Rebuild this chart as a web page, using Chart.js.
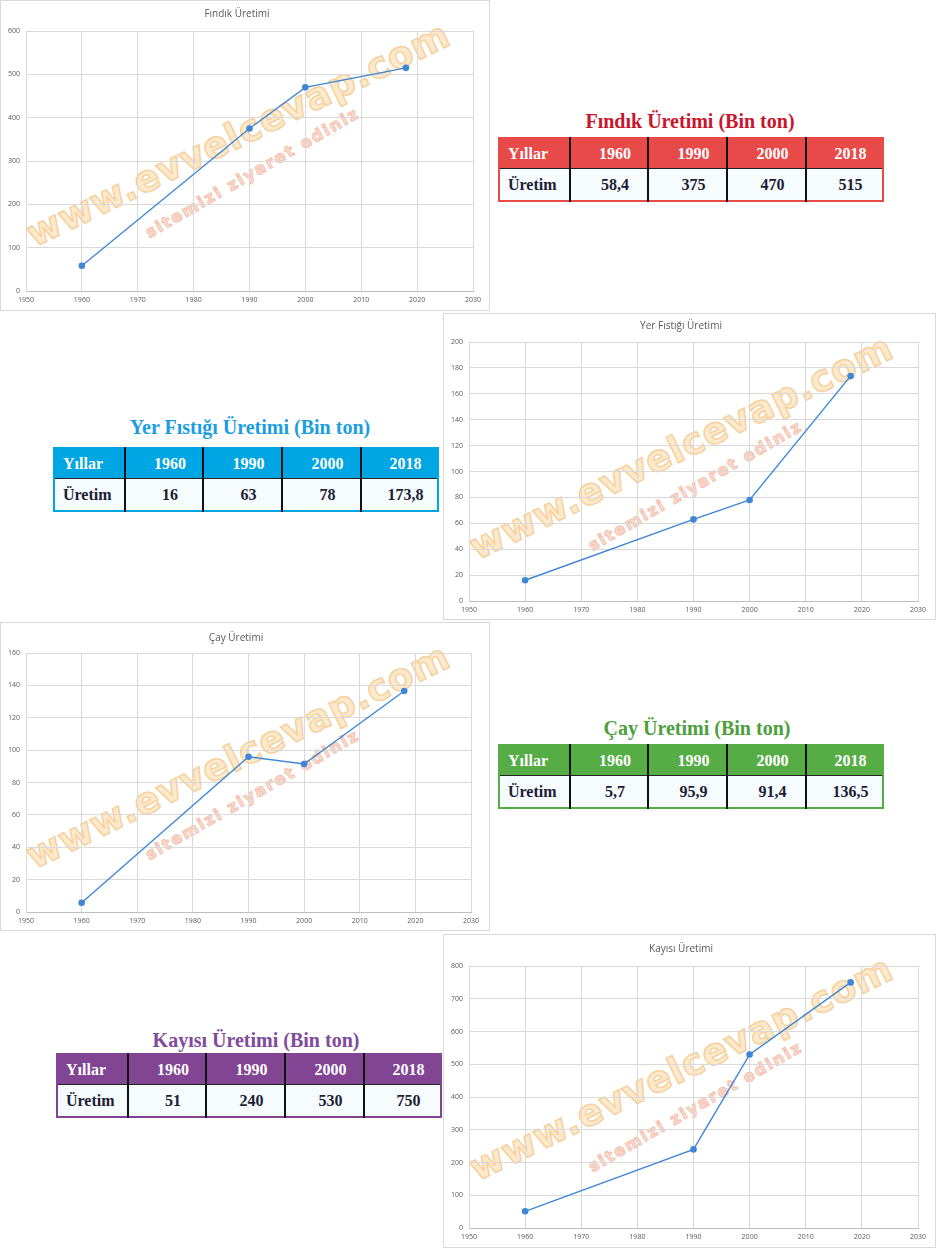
<!DOCTYPE html>
<html>
<head>
<meta charset="utf-8">
<script src="https://cdn.jsdelivr.net/npm/chart.js@4.4.1/dist/chart.umd.min.js"></script>
<style>
  body { margin: 0; background: #fff; width: 937px; height: 1248px; position: relative; overflow: hidden; }
  .box { position: absolute; border: 1px solid #d9d9d9; box-sizing: border-box; background: #fff; overflow: hidden; }
  .box canvas { position: absolute; left: 0; top: 0; z-index: 2; }
  .wm { position: absolute; white-space: nowrap; transform-origin: 0 100%; font-family: "DejaVu Sans", sans-serif; font-weight: bold; z-index: 1; line-height: 1; }
  .wm1 { font-size: 37px; color: #fde3bb; -webkit-text-stroke: 1.5px #f4c27e; letter-spacing: 1px; opacity: 0.75; }
  .wm2 { font-size: 16px; color: #f9cfc0; -webkit-text-stroke: 1px #f0a88e; letter-spacing: 2px; opacity: 0.7; }
  .ttl { position: absolute; white-space: nowrap; transform: translate(-50%, -50%); font-family: "Liberation Serif", serif; font-size: 20px; font-weight: bold; }
  table { position: absolute; border-collapse: collapse; table-layout: fixed; font-family: "Liberation Serif", serif; font-weight: bold; font-size: 16px; }
  td { padding: 0 0 0 12px; text-align: center; border-left: 2px solid #111; white-space: nowrap; }
  td:first-child { text-align: left; padding-left: 8px; border-left: none; }
  tr.h td { color: #fff; height: 29px; border-bottom: 1.5px solid #222; }
  tr.b td { background: #f6fbfd; color: #1d1d35; height: 31px; }
</style>
</head>
<body>
<script>
// values
const years = [1960, 1990, 2000, 2018];
const findik = [58.4, 375, 470, 515];
const yerFistigi = [16, 63, 78, 173.8];
const cay = [5.7, 95.9, 91.4, 136.5];
const kayisi = [51, 240, 530, 750];

const chartTitles = ['Fındık Üretimi', 'Yer Fıstığı Üretimi', 'Çay Üretimi', 'Kayısı Üretimi'];
const tableTitles = ['Fındık Üretimi (Bin ton)', 'Yer Fıstığı Üretimi (Bin ton)', 'Çay Üretimi (Bin ton)', 'Kayısı Üretimi (Bin ton)'];
const rowLabels = ['Yıllar', 'Üretim'];
const yMax = [600, 200, 160, 800];
const yStep = [100, 20, 20, 100];
const xMin = 1950, xMax = 2030, xStep = 10;

// layout
const boxes = [
  { left: 0,   top: 0,   w: 490, h: 311, plotLeft: 25, padRight: 16, titleY: 13, plotTop: 30, axisH: 19 },
  { left: 443, top: 313, w: 493, h: 307, plotLeft: 25, padRight: 17, titleY: 12, plotTop: 28, axisH: 18 },
  { left: 0,   top: 622, w: 490, h: 309, plotLeft: 25, padRight: 18, titleY: 15, plotTop: 30, axisH: 18 },
  { left: 443, top: 934, w: 493, h: 314, plotLeft: 25, padRight: 17, titleY: 14, plotTop: 31, axisH: 19 }
];
const tables = [
  { left: 498, top: 137, w: 384, titleX: 690, titleY: 121, head: '#e84a4a', titleColor: '#c8162c' },
  { left: 53,  top: 447, w: 385, titleX: 250, titleY: 427, head: '#00a5e3', titleColor: '#1b9ee0' },
  { left: 498, top: 744, w: 384, titleX: 697, titleY: 728, head: '#56ad46', titleColor: '#4c9f3c' },
  { left: 56,  top: 1053, w: 384, titleX: 256, titleY: 1040, head: '#824593', titleColor: '#7f4b9b' }
];
const colW = [71, 78, 79, 79, 77];

const lineColor = '#3f87d6';
const textColor = '#595959';
const gridColor = '#d9d9d9';

function renderChart(i, values) {
  const b = boxes[i];
  const box = document.createElement('div');
  box.className = 'box';
  Object.assign(box.style, { left: b.left + 'px', top: b.top + 'px', width: b.w + 'px', height: b.h + 'px' });
  document.body.appendChild(box);

  // watermark
  const w1 = document.createElement('div');
  w1.className = 'wm wm1';
  w1.textContent = 'www.evvelcevap.com';
  Object.assign(w1.style, { left: '36px', top: (252 - 37) + 'px', transform: 'rotate(-26deg)' });
  box.appendChild(w1);
  const w2 = document.createElement('div');
  w2.className = 'wm wm2';
  w2.textContent = 'sitemizi ziyaret ediniz';
  Object.assign(w2.style, { left: '150px', top: (240 - 16) + 'px', transform: 'rotate(-30deg)' });
  box.appendChild(w2);

  const iw = b.w - 2, ih = b.h - 2;
  const canvas = document.createElement('canvas');
  canvas.width = iw; canvas.height = ih;
  canvas.style.width = iw + 'px'; canvas.style.height = ih + 'px';
  box.appendChild(canvas);

  new Chart(canvas, {
    type: 'scatter',
    data: {
      datasets: [{
        data: years.map((y, k) => ({ x: y, y: values[k] })),
        showLine: true,
        borderColor: lineColor,
        backgroundColor: lineColor,
        borderWidth: 1.4,
        pointRadius: 2.6,
        pointHoverRadius: 2.6
      }]
    },
    options: {
      responsive: false,
      animation: false,
      layout: { padding: { left: 0, right: b.padRight, top: 0, bottom: 0 } },
      plugins: {
        legend: { display: false },
        tooltip: { enabled: false },
        title: {
          display: true,
          text: chartTitles[i],
          color: textColor,
          font: { family: 'Open Sans', size: 10, weight: 'normal', lineHeight: 1.2 },
          padding: { top: b.titleY - 6, bottom: b.plotTop - b.titleY - 6 }
        }
      },
      scales: {
        x: {
          type: 'linear', min: xMin, max: xMax,
          ticks: { stepSize: xStep, callback: v => v, color: textColor, font: { family: 'Open Sans', size: 7 }, padding: 5, maxRotation: 0 },
          grid: { color: gridColor, drawTicks: false },
          border: { color: '#bfbfbf' },
          afterFit: s => { s.height = b.axisH; }
        },
        y: {
          min: 0, max: yMax[i],
          ticks: { stepSize: yStep[i], callback: v => v, color: textColor, font: { family: 'Open Sans', size: 7 }, padding: 6 },
          grid: { color: gridColor, drawTicks: false },
          border: { color: gridColor },
          afterFit: s => { s.width = b.plotLeft; }
        }
      }
    }
  });
}

function renderTable(i, values) {
  const t = tables[i];
  const ttl = document.createElement('div');
  ttl.className = 'ttl';
  ttl.textContent = tableTitles[i];
  Object.assign(ttl.style, { left: t.titleX + 'px', top: t.titleY + 'px', color: t.titleColor });
  document.body.appendChild(ttl);

  const table = document.createElement('table');
  Object.assign(table.style, { left: t.left + 'px', top: t.top + 'px', width: t.w + 'px', border: '2px solid ' + t.head });
  const cg = document.createElement('colgroup');
  colW.forEach(w => { const c = document.createElement('col'); c.style.width = w + 'px'; cg.appendChild(c); });
  table.appendChild(cg);

  const rows = [
    { cls: 'h', cells: [rowLabels[0], ...years.map(String)] },
    { cls: 'b', cells: [rowLabels[1], ...values.map(v => String(v).replace('.', ','))] }
  ];
  rows.forEach(r => {
    const tr = document.createElement('tr');
    tr.className = r.cls;
    r.cells.forEach(txt => {
      const td = document.createElement('td');
      td.textContent = txt;
      if (r.cls === 'h') td.style.background = t.head;
      tr.appendChild(td);
    });
    table.appendChild(tr);
  });
  document.body.appendChild(table);
}

const allValues = [findik, yerFistigi, cay, kayisi];
allValues.forEach((v, i) => { renderChart(i, v); renderTable(i, v); });
</script>
</body>
</html>
